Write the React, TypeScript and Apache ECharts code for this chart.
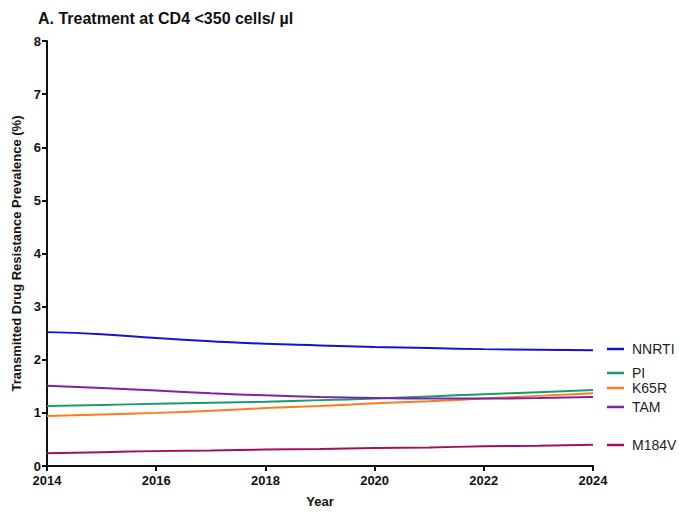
import React, { useEffect, useRef } from "react";
import * as echarts from "echarts";

const years = [2014, 2015, 2016, 2017, 2018, 2019, 2020, 2021, 2022, 2023, 2024];
const nnrti = [2.52, 2.48, 2.41, 2.35, 2.3, 2.27, 2.24, 2.22, 2.2, 2.19, 2.18];
const pi = [1.13, 1.15, 1.17, 1.19, 1.21, 1.24, 1.27, 1.31, 1.35, 1.39, 1.43];
const k65r = [0.94, 0.97, 1.0, 1.04, 1.09, 1.13, 1.18, 1.22, 1.27, 1.32, 1.37];
const tam = [1.51, 1.47, 1.42, 1.37, 1.33, 1.3, 1.28, 1.27, 1.27, 1.28, 1.3];
const m184v = [0.24, 0.26, 0.28, 0.29, 0.31, 0.32, 0.34, 0.35, 0.37, 0.38, 0.4];

const seriesDefs = [
  { name: "NNRTI", data: nnrti, color: "#1414cc", legendY: 349 },
  { name: "PI", data: pi, color: "#1b9a6c", legendY: 373 },
  { name: "K65R", data: k65r, color: "#ff7b1c", legendY: 388 },
  { name: "TAM", data: tam, color: "#7d22a8", legendY: 407 },
  { name: "M184V", data: m184v, color: "#a3105c", legendY: 445 },
];

const FONT = "Liberation Sans, Arial, sans-serif";

export default function App() {
  const ref = useRef<HTMLDivElement>(null);

  useEffect(() => {
    if (!ref.current) return;
    const chart = echarts.init(ref.current, undefined, { renderer: "svg" });
    const legendItems: any[] = [];
    seriesDefs.forEach((s) => {
      legendItems.push({
        type: "line",
        shape: { x1: 607, y1: s.legendY, x2: 624, y2: s.legendY },
        style: { stroke: s.color, lineWidth: 2.5 },
      });
      legendItems.push({
        type: "text",
        x: 632,
        y: s.legendY,
        style: {
          text: s.name,
          fill: "#222",
          font: `14px ${FONT}`,
          verticalAlign: "middle",
        },
      });
    });

    chart.setOption({
      animation: false,
      backgroundColor: "#fff",
      title: {
        text: "A. Treatment at CD4 <350 cells/ \u00b5l",
        left: 33,
        top: 5,
        textStyle: { fontFamily: FONT, fontWeight: "bold", fontSize: 16, color: "#111" },
      },
      grid: { left: 47, right: 86, top: 41, bottom: 47 },
      xAxis: {
        type: "value",
        min: 2014,
        max: 2024,
        interval: 2,
        name: "Year",
        nameLocation: "middle",
        nameGap: 29,
        nameTextStyle: { fontFamily: FONT, fontWeight: "bold", fontSize: 13, color: "#111" },
        axisLine: { lineStyle: { color: "#111", width: 2 } },
        axisTick: { show: true, length: 5, lineStyle: { color: "#111", width: 2 } },
        axisLabel: {
          fontFamily: FONT,
          fontWeight: "bold",
          fontSize: 13,
          color: "#111",
          margin: 8,
          formatter: (v: number) => String(v),
        },
        splitLine: { show: false },
      },
      yAxis: {
        type: "value",
        min: 0,
        max: 8,
        interval: 1,
        name: "Transmitted Drug Resistance Prevalence (%)",
        nameLocation: "middle",
        nameGap: 24,
        nameTextStyle: { fontFamily: FONT, fontWeight: "bold", fontSize: 13, color: "#111" },
        axisLine: { show: true, lineStyle: { color: "#111", width: 2 } },
        axisTick: { show: true, length: 5, lineStyle: { color: "#111", width: 2 } },
        axisLabel: { fontFamily: FONT, fontWeight: "bold", fontSize: 13, color: "#111", margin: 6 },
        splitLine: { show: false },
      },
      series: seriesDefs.map((s) => ({
        name: s.name,
        type: "line",
        smooth: true,
        showSymbol: false,
        data: years.map((y, i) => [y, s.data[i]]),
        lineStyle: { color: s.color, width: 2 },
        itemStyle: { color: s.color },
      })),
      graphic: legendItems,
    });
    return () => chart.dispose();
  }, []);

  return (
    <div
      ref={ref}
      style={{ position: "fixed", left: 0, top: 0, width: 679, height: 513, background: "#fff" }}
    />
  );
}
